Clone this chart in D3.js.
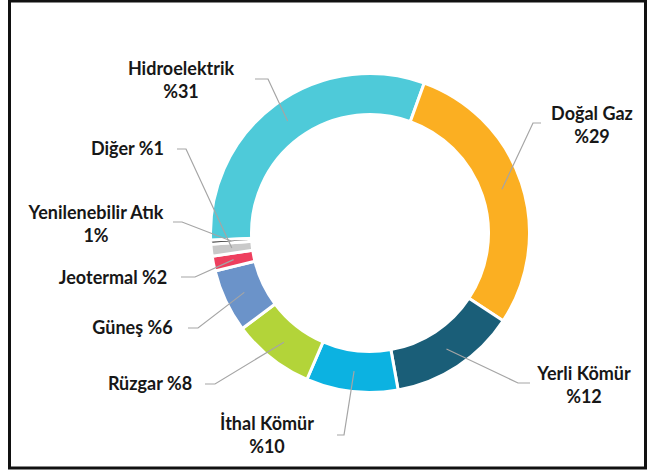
<!DOCTYPE html>
<html>
<head>
<meta charset="utf-8">
<script src="https://cdn.jsdelivr.net/npm/d3@7"></script>
<style>
  html, body { margin: 0; padding: 0; background: #fff; }
  svg { display: block; }
  text { font-family: Lato, "Open Sans", sans-serif; font-weight: 700; fill: #171717; }
</style>
</head>
<body>
<svg id="chart" width="647" height="473"></svg>
<script>
// ---- data ----
const categories = ["Hidroelektrik", "Doğal Gaz", "Yerli Kömür", "İthal Kömür", "Rüzgar", "Güneş", "Jeotermal", "Diğer", "Yenilenebilir Atık"];
const shares = [31.25, 28.75, 12.9, 9.3, 8.3, 6.4, 1.5, 1.2, 0.4];
const labelLines = [
  ["Hidroelektrik", "%31"],
  ["Doğal Gaz", "%29"],
  ["Yerli Kömür", "%12"],
  ["İthal Kömür", "%10"],
  ["Rüzgar %8"],
  ["Güneş %6"],
  ["Jeotermal %2"],
  ["Diğer %1"],
  ["Yenilenebilir Atık", "1%"]
];

// ---- styles / layout ----
const colors = ["#4ecad9", "#fbaf22", "#1a5e78", "#0cb2e1", "#b3d439", "#6b93c9", "#ee3f5e", "#c9c9c9", "#151515"];
const labelLayout = [
  { knee: [268, 79],  end: [255, 79],  cx: 181,   y: 75 },
  { knee: [533, 123], end: [541, 123], cx: 592,   y: 120 },
  { knee: [518, 383], end: [530, 383], cx: 584,   y: 380 },
  { knee: [344, 435], end: [337, 435], cx: 267,   y: 430 },
  { knee: [215, 384], end: [205, 384], cx: 150,   y: 390 },
  { knee: [198, 328], end: [188, 328], cx: 132.5, y: 334 },
  { knee: [195, 277], end: [181, 277], cx: 113,   y: 284 },
  { knee: [186, 149], end: [177, 149], cx: 127.5, y: 155 },
  { knee: [182, 222], end: [173, 222], cx: 96,    y: 219 }
];
const W = 647, H = 473;
const cx = 370, cy = 233;
const Rout = 159.5, Rin = 118.5, Rlead = 139;
const start = -92.6 * Math.PI / 180;

const svg = d3.select("#chart");

// frame
svg.append("rect").attr("x", 9.5).attr("y", 1).attr("width", 636).attr("height", 467)
  .attr("fill", "none").attr("stroke", "#111").attr("stroke-width", 3);

const data = categories.map((c, i) => ({ name: c, value: shares[i], color: colors[i], lines: labelLines[i], lay: labelLayout[i] }));

const pie = d3.pie().value(d => d.value).sort(null).startAngle(start).endAngle(start + 2 * Math.PI);
const arcs = pie(data);
const arc = d3.arc().innerRadius(Rin).outerRadius(Rout);
const leadArc = d3.arc().innerRadius(Rlead).outerRadius(Rlead);

const g = svg.append("g").attr("transform", `translate(${cx},${cy})`);
g.selectAll("path.slice").data(arcs).enter().append("path")
  .attr("class", "slice")
  .attr("d", arc)
  .attr("fill", d => d.data.color)
  .attr("stroke", "#fff")
  .attr("stroke-width", 3)
  .attr("stroke-linejoin", "miter");

// leader lines
svg.selectAll("polyline.lead").data(arcs).enter().append("polyline")
  .attr("class", "lead")
  .attr("points", d => {
    const c = leadArc.centroid(d);
    const L = d.data.lay;
    return [[cx + c[0], cy + c[1]], L.knee, L.end].map(p => p.join(",")).join(" ");
  })
  .attr("fill", "none")
  .attr("stroke", "#a5a5a5")
  .attr("stroke-width", 1.2);

// labels
const lab = svg.selectAll("text.lab").data(arcs).enter().append("text")
  .attr("class", "lab")
  .attr("text-anchor", "middle")
  .attr("font-size", 18)
  .attr("x", d => d.data.lay.cx)
  .attr("y", d => d.data.lay.y);
lab.selectAll("tspan").data(d => d.data.lines.map(t => ({ t, x: d.data.lay.cx }))).enter().append("tspan")
  .attr("x", d => d.x)
  .attr("dy", (d, i) => i === 0 ? 0 : 22.5)
  .text(d => d.t);
</script>
</body>
</html>
